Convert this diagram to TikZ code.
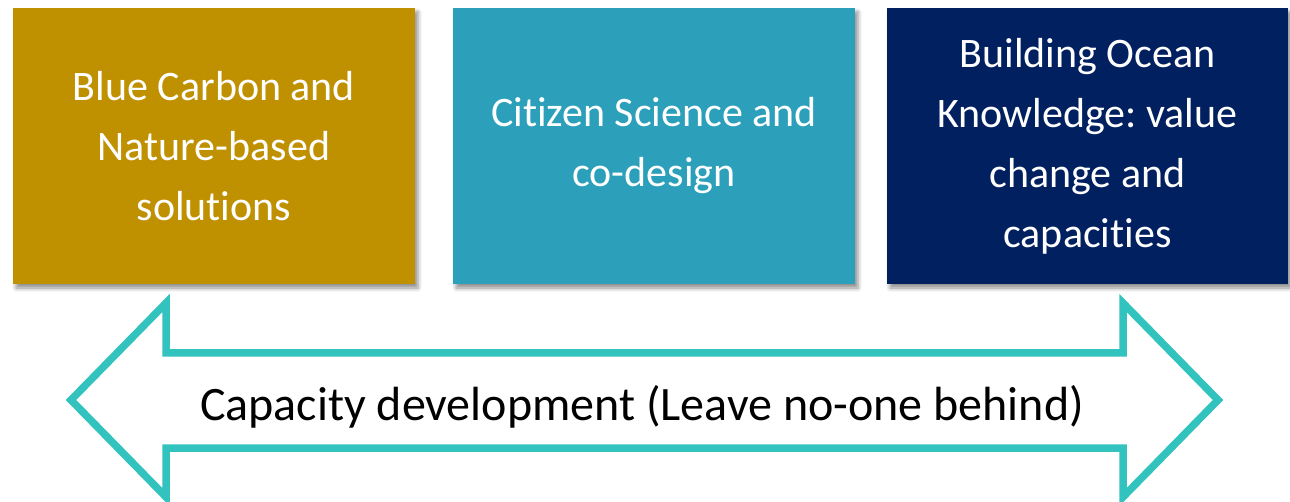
\documentclass[tikz,border=0pt]{standalone}
\usepackage{fontspec}
\setmainfont{Carlito}[Ligatures=NoCommon]
\frenchspacing
\usetikzlibrary{shadows.blur}
\definecolor{gold}{HTML}{BF9000}
\definecolor{teal}{HTML}{2CA0BA}
\definecolor{navy}{HTML}{002060}
\definecolor{arrowc}{HTML}{33C3BF}
\begin{document}
\begin{tikzpicture}[x=1pt,y=-1pt,
  box/.style={draw=none, minimum width=402pt, minimum height=276pt, inner sep=0pt,
    text=white, align=center, font=\fontsize{42}{60}\selectfont,
    blur shadow={shadow xshift=3pt, shadow yshift=-4pt, shadow blur radius=4pt, shadow opacity=45}},
  arrowline/.style={draw=arrowc, line width=7.5pt, line join=miter, fill=white}]
\useasboundingbox (0,0) rectangle (1290,502);
\node[box, fill=gold] (b1) at (214,146) {\raisebox{2pt}{\parbox{400pt}{\centering Blue Carbon and\\Nature-based\\solutions}}};
\node[box, fill=teal] (b2) at (654,146) {Citizen Science and\\co-design};
\node[box, fill=navy, minimum width=401pt] (b3) at (1087.5,146) {Building Ocean\\Knowledge: value\\change and\\capacities};
\draw[arrowline] (71,400) -- (166,303) -- (166,353) -- (1123,353) -- (1123,303)
  -- (1218,400) -- (1123,497) -- (1123,448) -- (166,448) -- (166,497) -- cycle;
\node[font=\fontsize{48}{56}\selectfont, text=black] (lab) at (642,407) {Capacity development (Leave no-one behind)};
\end{tikzpicture}
\end{document}
